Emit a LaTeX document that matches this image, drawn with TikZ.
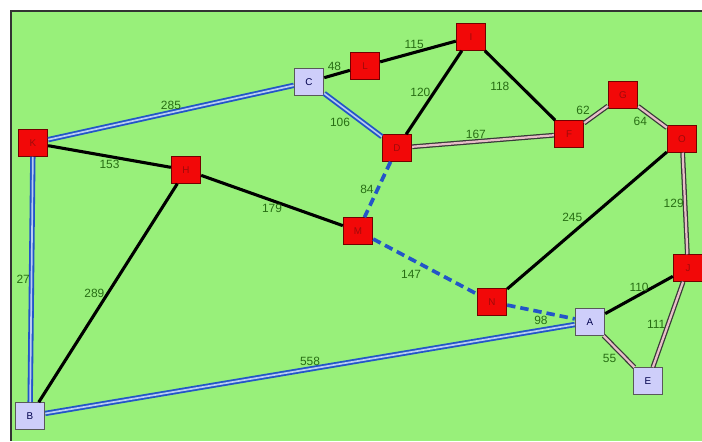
\documentclass[tikz,border=0pt]{standalone}
\usepackage{fontspec}
\setmainfont{Liberation Sans}
\usepackage{tikz}
\usetikzlibrary{arrows.meta, positioning}

\definecolor{bggreen}{RGB}{152,240,122}
\definecolor{nodered}{RGB}{242,8,8}
\definecolor{txtred}{RGB}{160,10,10}
\definecolor{nodelav}{RGB}{206,206,250}
\definecolor{linkblue}{RGB}{35,85,200}
\definecolor{linkpale}{RGB}{185,205,240}
\definecolor{linkpink}{RGB}{232,190,200}
\definecolor{wtgreen}{RGB}{40,110,20}

\begin{document}
\begin{tikzpicture}[x=0.025cm, y=-0.025cm,
  city/.style={rectangle, minimum width=0.74cm, minimum height=0.67cm, inner sep=0pt, font=\fontsize{7}{8}\selectfont},
  redcity/.style={city, fill=nodered, draw=red!45!black, line width=0.5pt, text=txtred},
  lavcity/.style={city, fill=nodelav, draw=gray!70!black, line width=0.6pt, text=blue!30!black},
  road/.style={line width=2.2pt, black},
  bluepair/.style={draw=linkblue, double=linkpale, line width=1.3pt, double distance=1.2pt},
  pinkpair/.style={draw=gray!45!black, double=linkpink, line width=0.9pt, double distance=1.6pt},
  bluedash/.style={line width=2.6pt, linkblue, dash pattern=on 6pt off 3.5pt},
  wt/.style={text=wtgreen, font=\fontsize{8.5}{9}\selectfont, inner sep=1.5pt}]
  % 背景と枠
  \useasboundingbox (0,0) rectangle (702,441);
  \fill[white] (0,0) rectangle (702,441);
  \fill[bggreen] (11,11) rectangle (702,441);
  \draw[gray!40!black, line width=1pt] (11,441) -- (11,11) -- (702,11);

  % 都市
  \node[redcity] (K) at (33,143) {K};
  \node[redcity] (H) at (186,170) {H};
  \node[lavcity] (C) at (309,82) {C};
  \node[redcity] (L) at (365,66) {L};
  \node[redcity] (I) at (471,37) {I};
  \node[redcity] (D) at (397,148) {D};
  \node[redcity] (F) at (569,134) {F};
  \node[redcity] (G) at (623,95) {G};
  \node[redcity] (O) at (682,139) {O};
  \node[redcity] (M) at (358,231) {M};
  \node[redcity] (N) at (492,302) {N};
  \node[redcity] (J) at (688,268) {J};
  \node[lavcity] (A) at (590,322) {A};
  \node[lavcity] (E) at (648,381) {E};
  \node[lavcity] (B) at (30,416) {B};

  % 道
  \draw[bluepair] (K) -- (C) node[midway, above, wt] {285};
  \draw[bluepair] (K) -- (B) node[midway, left, wt, inner sep=0.5pt] {27};
  \draw[bluepair] (C) -- (D) node[midway, below left, wt] {106};
  \draw[bluepair] (B) -- (A) node[midway, above, wt] {558};
  \draw[road] (K) -- (H) node[midway, below, wt] {153};
  \draw[road] (H) -- (M) node[midway, below, wt] {179};
  \draw[road] (H) -- (B) node[midway, left, wt] {289};
  \draw[road] (C) -- (L) node[pos=0.4, above, wt] {48};
  \draw[road] (L) -- (I) node[pos=0.45, above, wt] {115};
  \draw[road] (I) -- (D) node[midway, left, wt] {120};
  \draw[road] (I) -- (F) node[pos=0.4, below left, wt] {118};
  \draw[road] (O) -- (N) node[pos=0.52, above left, wt, inner sep=0pt] {245};
  \draw[road] (J) -- (A) node[midway, above, wt] {110};
  \draw[pinkpair] (D) -- (F) node[pos=0.45, above, wt] {167};
  \draw[pinkpair] (F) -- (G) node[pos=0.35, above left, wt] {62};
  \draw[pinkpair] (G) -- (O) node[pos=0.4, below left, wt] {64};
  \draw[pinkpair] (O) -- (J) node[midway, left, wt, inner sep=0.5pt] {129};
  \draw[pinkpair] (J) -- (E) node[midway, left, wt] {111};
  \draw[pinkpair] (A) -- (E) node[midway, below left, wt] {55};
  \draw[bluedash] (D) -- (M) node[midway, left, wt] {84};
  \draw[bluedash] (M) -- (N) node[midway, below left, wt] {147};
  \draw[bluedash] (N) -- (A) node[midway, below, wt] {98};
\end{tikzpicture}
\end{document}
